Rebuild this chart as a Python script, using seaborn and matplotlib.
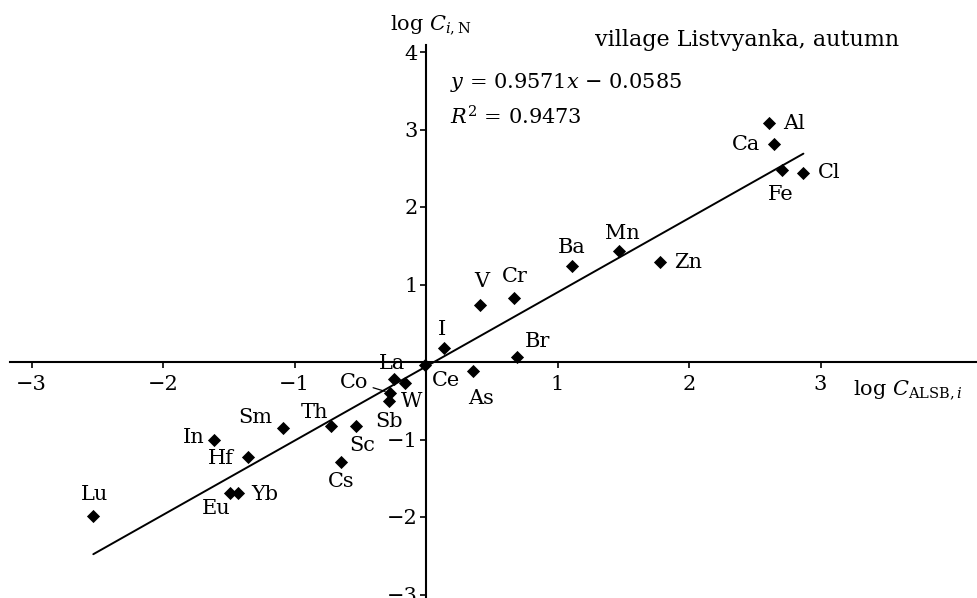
import numpy as np
import pandas as pd
import matplotlib
matplotlib.use("Agg")
import matplotlib.pyplot as plt
import seaborn as sns

# element, log C_ALSB,i (x), log C_i,N (y)
elements = ["Al", "Ca", "Fe", "Cl", "Zn", "Mn", "Ba", "Cr", "V", "I", "Br", "As",
            "Ce", "La", "Co", "W", "Sb", "Th", "Sc", "Sm", "In", "Hf", "Cs", "Eu",
            "Yb", "Lu"]
x_vals = [2.61, 2.65, 2.71, 2.87, 1.78, 1.47, 1.11, 0.67, 0.41, 0.14, 0.69, 0.36,
          -0.01, -0.24, -0.27, -0.16, -0.28, -0.72, -0.53, -1.09, -1.61, -1.35,
          -0.65, -1.49, -1.43, -2.53]
y_vals = [3.08, 2.81, 2.48, 2.44, 1.29, 1.43, 1.24, 0.82, 0.74, 0.18, 0.07, -0.12,
          -0.04, -0.22, -0.40, -0.27, -0.50, -0.83, -0.83, -0.85, -1.01, -1.22,
          -1.29, -1.69, -1.69, -1.99]
# label offsets in pixels (dx, dy, ha)
label_pos = {
    "Al": (14, 0, "left"), "Ca": (-14, 0, "right"), "Fe": (-2, -25, "center"),
    "Cl": (14, 0, "left"), "Zn": (14, 0, "left"), "Mn": (3, 18, "center"),
    "Ba": (0, 18, "center"), "Cr": (1, 22, "center"), "V": (2, 23, "center"),
    "I": (-2, 19, "center"), "Br": (8, 15, "left"), "As": (8, -27, "center"),
    "Ce": (21, -15, "center"), "La": (-2, 16, "center"), "Co": (-22, 11, "right"),
    "W": (7, -19, "center"), "Sb": (0, -21, "center"), "Th": (-17, 14, "center"),
    "Sc": (6, -19, "center"), "Sm": (-10, 10, "right"), "In": (-10, 3, "right"),
    "Hf": (-15, -2, "right"), "Cs": (1, -20, "center"), "Eu": (-14, -16, "center"),
    "Yb": (13, -2, "left"), "Lu": (1, 22, "center"),
}
slope, intercept = 0.9571, -0.0585

df = pd.DataFrame({"element": elements, "x": x_vals, "y": y_vals})
fit = pd.DataFrame({"x": [min(x_vals), max(x_vals)]})
fit["y"] = slope * fit["x"] + intercept

sns.set_style("white")
plt.rcParams["font.family"] = ["DejaVu Serif"]
plt.rcParams["mathtext.fontset"] = "dejavuserif"
plt.rcParams["text.color"] = "black"
plt.rcParams["xtick.color"] = "black"
plt.rcParams["ytick.color"] = "black"

fs = 15
fig = plt.figure(figsize=(9.78, 5.98), dpi=100)
ax = fig.add_axes([0, 0, 1, 1])
ax.set_xlim(-426 / 131.5, 552 / 131.5)
ax.set_ylim(-236 / 77.5, 362 / 77.5)

sns.lineplot(data=fit, x="x", y="y", color="black", lw=1.4, ax=ax)
sns.scatterplot(data=df, x="x", y="y", marker="D", s=45, color="black",
                edgecolor="black", linewidth=0, ax=ax, zorder=3)

for _, r in df.iterrows():
    dx, dy, ha = label_pos[r["element"]]
    if r["element"] == "Co":
        ax.annotate(r["element"], (r["x"], r["y"]), xytext=(dx, dy),
                    textcoords="offset pixels", ha=ha, va="center", fontsize=fs,
                    arrowprops=dict(arrowstyle="-", lw=0.9, color="black",
                                    shrinkA=1, shrinkB=4))
    else:
        ax.annotate(r["element"], (r["x"], r["y"]), xytext=(dx, dy),
                    textcoords="offset pixels", ha=ha, va="center", fontsize=fs)

# axes crossing at origin
for side in ["top", "right"]:
    ax.spines[side].set_visible(False)
ax.spines["left"].set_position(("data", 0))
ax.spines["bottom"].set_position(("data", 0))
ax.spines["left"].set_bounds(-3.05, 4.09)
ax.spines["bottom"].set_bounds(-3.16, 4.2)
for s in ["left", "bottom"]:
    ax.spines[s].set_linewidth(1.5)
    ax.spines[s].set_color("black")

ax.set_xticks([-3, -2, -1, 1, 2, 3])
ax.set_yticks([-3, -2, -1, 1, 2, 3, 4])
ax.tick_params(axis="x", direction="out", length=4, width=1.2, pad=5,
               labelsize=fs, bottom=True)
ax.tick_params(axis="y", direction="out", length=4, width=1.2, pad=2,
               labelsize=fs, left=True)
ax.set_xlabel("")
ax.set_ylabel("")

fig.text(390 / 978, 1 - 25 / 598, r"log $C_{i,\mathrm{N}}$", fontsize=fs,
         ha="left", va="center")
fig.text(853 / 978, 1 - 390 / 598, r"log $C_{\mathrm{ALSB},i}$", fontsize=fs,
         ha="left", va="center")
fig.text(747 / 978, 1 - 40 / 598, "village Listvyanka, autumn", fontsize=16,
         ha="center", va="center")
fig.text(450 / 978, 1 - 82 / 598, r"$y$ = 0.9571$x$ − 0.0585", fontsize=fs,
         ha="left", va="center")
fig.text(450 / 978, 1 - 117 / 598, r"$R^2$ = 0.9473", fontsize=fs,
         ha="left", va="center")

fig.savefig("out.png", dpi=100)
